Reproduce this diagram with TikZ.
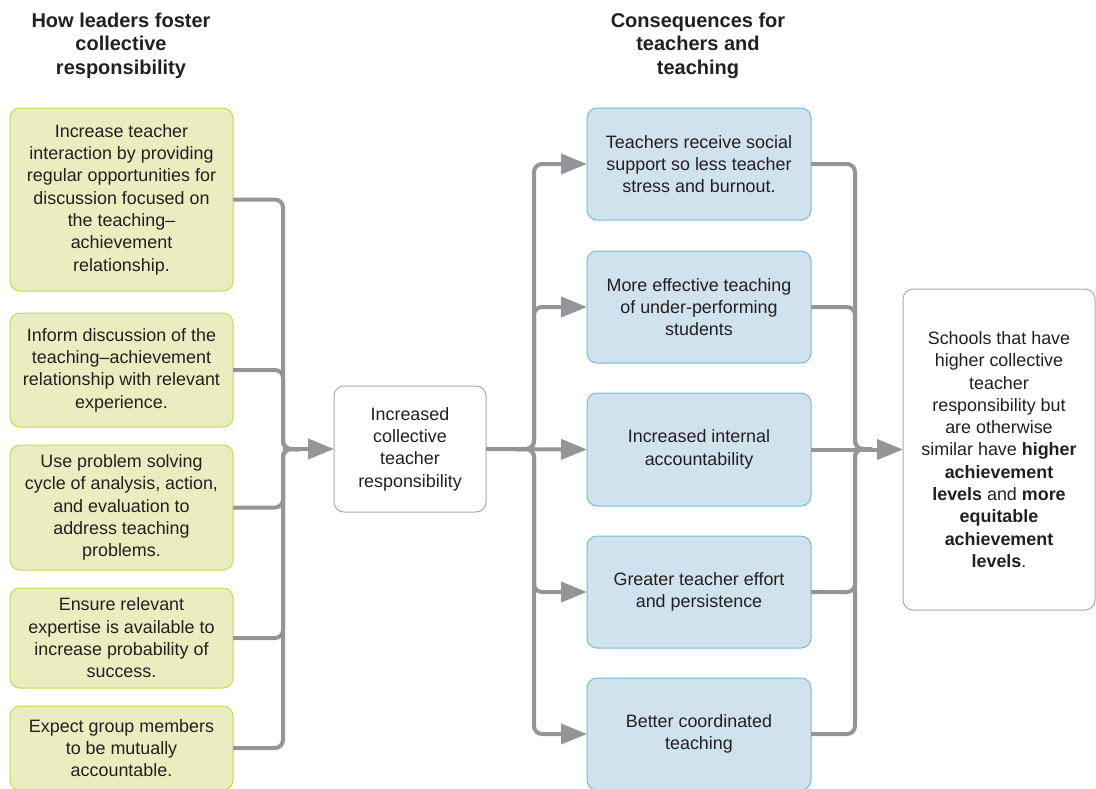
\documentclass[tikz,border=0pt]{standalone}
\usepackage{fontspec}
\setmainfont{Liberation Sans}
\usetikzlibrary{arrows.meta}
\definecolor{txt}{HTML}{231F20}
\definecolor{wire}{HTML}{939598}
\definecolor{greenfill}{HTML}{EAEDC0}
\definecolor{greenline}{HTML}{CDD64C}
\definecolor{bluefill}{HTML}{D0E2EE}
\definecolor{blueline}{HTML}{78BADB}
\definecolor{greyline}{HTML}{A7A9AC}
\begin{document}
\begin{tikzpicture}[x=1pt,y=-1pt,
  every node/.style={text=txt, inner sep=0pt, outer sep=0pt},
  body/.style={font=\fontsize{17.9}{22.3}\selectfont, align=center},
  heading/.style={font=\fontsize{20}{23.5}\selectfont\bfseries, align=center, anchor=north},
  leaderbox/.style={body, draw=greenline, fill=greenfill, line width=1pt, rounded corners=10pt, minimum width=223pt},
  resultbox/.style={body, draw=blueline, fill=bluefill, line width=1pt, rounded corners=10pt, minimum width=224pt, minimum height=112pt},
  plainbox/.style={body, draw=greyline, fill=white, line width=1pt, rounded corners=10pt},
  conn/.style={draw=wire, line width=4pt, rounded corners=8pt},
  tip/.style={conn, -{Triangle[length=26pt,width=20pt]}}
]
\useasboundingbox (0,0) rectangle (1096,788);

% column headings
\node[heading] (h1) at (121,13) {How leaders foster\\collective\\responsibility};
\node[heading] (h2) at (698,13) {Consequences for\\teachers and\\teaching};

% leadership actions
\node[leaderbox, minimum height=183pt] (g1) at (121.5,199.5) {Increase teacher\\interaction by providing\\regular opportunities for\\discussion focused on\\the teaching–\\achievement\\relationship.};
\node[leaderbox, minimum height=114pt] (g2) at (121.5,370) {Inform discussion of the\\teaching–achievement\\relationship with relevant\\experience.};
\node[leaderbox, minimum height=125pt] (g3) at (121.5,507.5) {Use problem solving\\cycle of analysis, action,\\and evaluation to\\address teaching\\problems.};
\node[leaderbox, minimum height=100pt] (g4) at (121.5,638) {Ensure relevant\\expertise is available to\\increase probability of\\success.};
\node[leaderbox, minimum height=84pt] (g5) at (121.5,748) {Expect group members\\to be mutually\\accountable.};

% central outcome
\node[plainbox, minimum width=152pt, minimum height=126pt] (mid) at (410,449) {Increased\\collective\\teacher\\responsibility};

% consequences
\node[resultbox] (b1) at (699,164) {Teachers receive social\\support so less teacher\\stress and burnout.};
\node[resultbox] (b2) at (699,307) {More effective teaching\\of under-performing\\students};
\node[resultbox, minimum height=113pt] (b3) at (699,449.5) {Increased internal\\accountability};
\node[resultbox] (b4) at (699,592) {Greater teacher effort\\and persistence};
\node[resultbox] (b5) at (699,734) {Better coordinated\\teaching};

% final outcome
\node[plainbox, minimum width=192pt, minimum height=321pt] (fin) at (999,449.5) {Schools that have\\higher collective\\teacher\\responsibility but\\are otherwise\\similar have \textbf{higher}\\\textbf{achievement}\\\textbf{levels} and \textbf{more}\\\textbf{equitable}\\\textbf{achievement}\\\textbf{levels}.};

% junction points of the buses
\coordinate (lj) at (283,449);
\coordinate (ls) at (300,449);
\coordinate (rs) at (515,449);
\coordinate (rj) at (534,449);
\coordinate (fj) at (855,449);
\coordinate (fs) at (872,449);

% left bus into the central box
\foreach \g in {g1,g2,g3,g4,g5}
  \draw[conn] (\g.east) -| (lj) -- (ls);
\draw[tip] (lj) -- (mid.west);

% fan-out to the consequences
\foreach \b in {b1,b2,b4,b5}
  \draw[tip] (rs) -- (rj) |- (\b.west);
\draw[tip] (mid.east) -- (b3.west);

% fan-in to the final outcome
\foreach \b in {b1,b2,b4,b5}
  \draw[conn] (\b.east) -| (fj) -- (fs);
\draw[tip] (b3.east) -- (fin.west);
\end{tikzpicture}
\end{document}
